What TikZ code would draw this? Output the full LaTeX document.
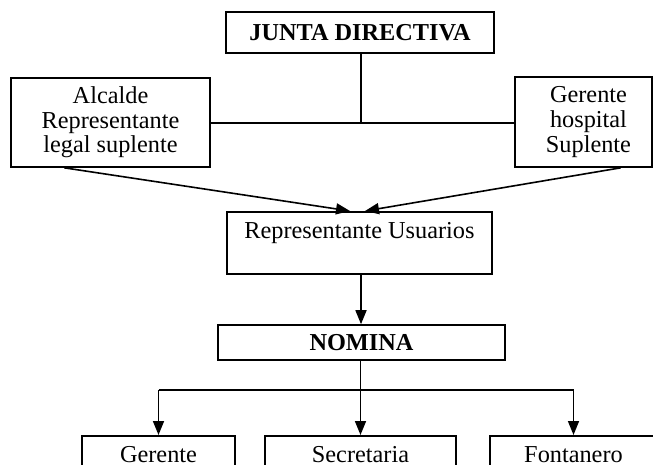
\documentclass[tikz,border=0pt]{standalone}
\usepackage{fontspec}
\setmainfont{Liberation Serif}
\usetikzlibrary{arrows.meta}
\begin{document}
\begin{tikzpicture}[x=0.5pt,y=-0.5pt,
  box/.style={draw=black,line width=0.8pt,inner sep=2pt,font=\fontsize{12.15}{12.3}\selectfont,align=center},
  topbox/.style={box,inner ysep=0pt,anchor=north},
  txt/.style={inner sep=0pt,font=\fontsize{12.15}{12.3}\selectfont,align=center},
  conn/.style={line width=0.8pt,draw=black},
  arr/.style={conn,-{Triangle[length=7pt,width=5.5pt]}}]
\useasboundingbox (0,0) rectangle (653,465);
\fill[white] (0,0) rectangle (653,465);
% boxes
\node[box,minimum width=134pt,minimum height=20.5pt,font=\fontsize{12.15}{12.3}\selectfont\bfseries] (jd) at (360,32.5) {JUNTA DIRECTIVA};
\node[box,minimum width=99.5pt,minimum height=44.5pt] (alc) at (110.5,122.5) {Alcalde\\Representante\\legal suplente};
\node[box,minimum width=68.5pt,minimum height=45pt] (gh) at (583.5,122) {};
\node[txt] (ght) at (588.5,122) {Gerente\\hospital\\Suplente};
\node[topbox,minimum width=132.5pt,text height=13.25pt,text depth=17.75pt] (rep) at (359.5,211) {Representante Usuarios};
\node[box,minimum width=143.5pt,minimum height=17.5pt,font=\fontsize{12.15}{12.3}\selectfont\bfseries] (nom) at (361.5,342.5) {NOMINA};
\node[topbox,minimum width=76.5pt,minimum height=30pt] (ger) at (158.5,435) {};
\node[topbox,minimum width=95.5pt,minimum height=30pt] (sec) at (360.5,435) {};
\node[topbox,minimum width=83.5pt,minimum height=30pt] (fon) at (573.5,435) {};
\node[txt,anchor=base] (gert) at (158.5,462) {Gerente};
\node[txt,anchor=base] (sect) at (360.5,462) {Secretaria};
\node[txt,anchor=base] (font) at (573.5,462) {Fontanero};
% connectors
\coordinate (jn) at (361,123);
\coordinate (bus) at (360.5,390);
\draw[conn] (jd.south -| jn) -- (jn);
\draw[conn] (alc.east |- jn) -- (gh.west |- jn);
\draw[arr] ([xshift=27pt]alc.south west) -- ([xshift=-4.75pt]rep.north);
\draw[arr] ([xshift=-16pt]gh.south east) -- ([xshift=2.75pt]rep.north);
\draw[arr] (rep.south -| jn) -- (nom.north -| jn);
\draw[conn] (ger.north |- bus) -- (fon.north |- bus);
\draw[arr] (nom.south -| sec.north) -- (sec.north);
\draw[arr] (ger.north |- bus) -- (ger.north);
\draw[arr] (fon.north |- bus) -- (fon.north);
\end{tikzpicture}
\end{document}
